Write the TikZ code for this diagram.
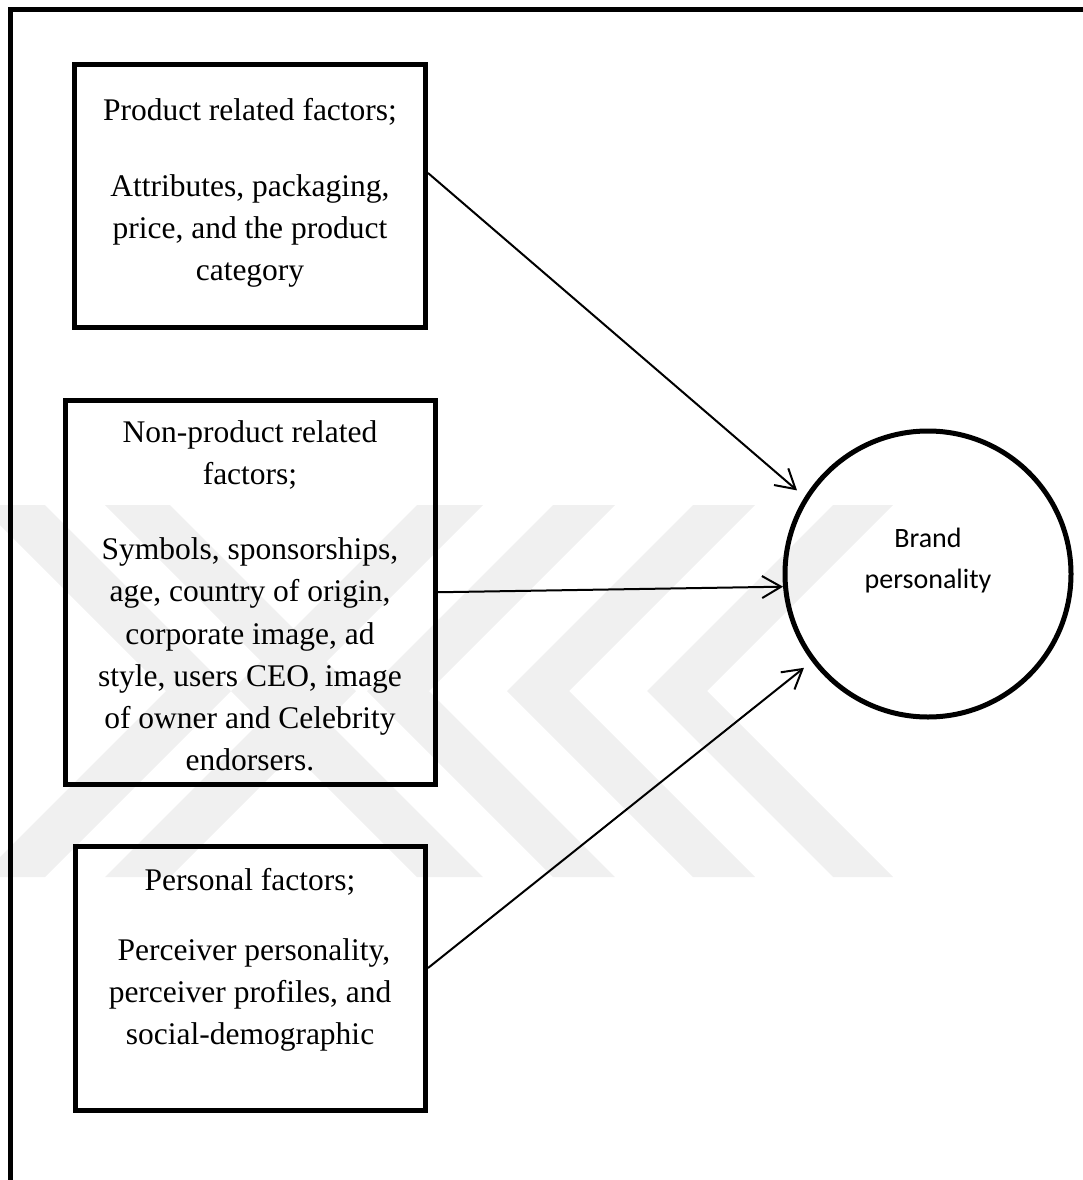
\documentclass[tikz,border=0pt]{standalone}
\usepackage{fontspec}
\setmainfont{Liberation Serif}
\newfontfamily\calibrifont{Carlito}
\usetikzlibrary{arrows.meta}
\begin{document}
\begin{tikzpicture}[x=1pt,y=-1pt,
  frame/.style={line width=5pt, line join=miter},
  factorbox/.style={draw, line width=5pt, rectangle, inner sep=0pt},
  factortext/.style={align=center, inner sep=0pt, anchor=north, font=\fontsize{31.5}{42.2}\selectfont},
  brandcircle/.style={draw, circle, line width=5pt, minimum size=286pt, inner sep=0pt},
  brandtext/.style={align=center, inner sep=0pt, anchor=north, font=\calibrifont\fontsize{28}{41}\selectfont},
  arr/.style={line width=2pt, -{Straight Barb[length=19pt,width=22pt]}},
  wm/.style={fill=black!6, draw=none}]
\useasboundingbox (0,0) rectangle (1083,1180);

% faint watermark
\begin{scope}
\clip (0,0) rectangle (1083,1180);
\foreach \a/\w in {-20/65,105/65}{
  \fill[wm] (\a,505) -- ({\a+\w},505) -- ({\a+\w+186},691) -- ({\a+\w},877) -- (\a,877) -- ({\a+186},691) -- cycle;
}
\foreach \a/\w in {417/66,553/62,693/62,833/60}{
  \fill[wm] (\a,505) -- ({\a+\w},505) -- ({\a+\w-186},691) -- ({\a+\w},877) -- (\a,877) -- ({\a-186},691) -- cycle;
}
\end{scope}

% outer frame (top and left)
\draw[frame] (1083,10) -- (10.5,10) -- (10.5,1180);

% boxes
\node[factorbox, minimum width=351pt, minimum height=263pt] (b1) at (250,196) {};
\node[factorbox, minimum width=369.5pt, minimum height=384.5pt] (b2) at (250.25,592.25) {};
\node[factorbox, minimum width=350.5pt, minimum height=264pt] (b3) at (250.25,978) {};

\node[factortext] (t1) at (250,98.5) {Product related factors;\\[33pt]Attributes, packaging,\\price, and the product\\category};
\node[factortext] (t2) at (250,420.3) {Non-product related\\factors;\\[33pt]Symbols, sponsorships,\\age, country of origin,\\corporate image, ad\\style, users CEO, image\\of owner and Celebrity\\endorsers.};
\node[factortext] (t3) at (250,868.5) {Personal factors;\\[27pt]\ Perceiver personality,\\perceiver profiles, and\\social-demographic};

% circle
\node[brandcircle] (c) at (928,574) {};
\node[brandtext] (ct) at (928,527.5) {Brand\\personality};

% arrows
\draw[arr, shorten >=10pt] ([yshift=23pt]b1.east) -- (c.148);
\draw[arr] (b2.east) -- (c.185);
\draw[arr, shorten >=10pt] ([yshift=10pt]b3.east) -- (c.217);
\end{tikzpicture}
\end{document}
